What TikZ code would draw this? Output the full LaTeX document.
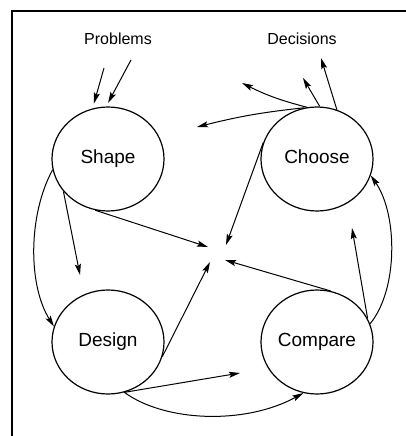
\documentclass[tikz,border=0pt]{standalone}
\usepackage{fontspec}
\setmainfont{Liberation Sans}
\usetikzlibrary{shapes.geometric,arrows.meta}
\begin{document}
\begin{tikzpicture}[x=1pt,y=-1pt,
  circ/.style={ellipse,draw,line width=1.2pt,minimum width=112pt,minimum height=104pt,inner sep=0pt,
    font=\fontsize{19}{19}\selectfont,text height=13pt,text depth=4pt},
  lab/.style={font=\fontsize{16}{16}\selectfont,anchor=base,inner sep=0pt},
  arr/.style={line width=1pt,-{Stealth[length=11pt,width=6pt,inset=2pt]}},
  frame/.style={line width=2.6pt}]
\useasboundingbox (0,0) rectangle (405,436);
% frame (top and left only)
\coordinate (ftl) at (12,11);
\coordinate (ftr) at (406,11);
\coordinate (fbl) at (12,437);
\draw[frame] (ftr) -- (ftl) -- (fbl);
% nodes
\node[circ] (shape) at (108,159) {Shape};
\node[circ] (choose) at (317,159) {Choose};
\node[circ] (design) at (108,342) {Design};
\node[circ] (compare) at (317,342) {Compare};
\node[lab] (problems) at (118,45) {Problems};
\node[lab] (decisions) at (302,45) {Decisions};
% free ends
\coordinate (pa) at (104,68);
\coordinate (pb) at (131,60);
\coordinate (d1) at (321,58);
\coordinate (d2) at (303,78);
\coordinate (d3) at (242,83);
\coordinate (d4) at (197,127);
\coordinate (cs) at (208,247);
\coordinate (cc) at (226,245);
\coordinate (cm) at (225,260);
\coordinate (cd) at (210,262);
\coordinate (sd) at (80,275);
\coordinate (dc) at (240,373);
\coordinate (mc) at (352,228);
% problems
\draw[arr,shorten >=5pt] (pa) -- (shape.107);
\draw[arr,shorten >=4pt] (pb) -- (shape.92);
% decisions
\draw[arr] (choose.68) -- (d1);
\draw[arr] (choose.87) -- (d2);
\draw[arr] (choose.101) to[bend left=6] (d3);
\draw[arr] (choose.104) to[bend right=4] (d4);
% to centre
\draw[arr] (shape.-104) -- (cs);
\draw[arr] (choose.163) -- (cc);
\draw[arr] (compare.75) -- (cm);
\draw[arr] (design.-15) -- (cd);
% shape to design
\draw[arr] (shape.216) -- (sd);
\draw[arr] (shape.191) .. controls (28,215) and (28,285) .. (design.164);
% design to compare
\draw[arr] (design.-72) -- (dc);
\draw[arr] (design.-72) .. controls (165,422) and (245,425) .. (compare.-105);
% compare to choose
\draw[arr] (compare.25) -- (mc);
\draw[arr] (compare.19) .. controls (398,290) and (398,215) .. (choose.-17);
\end{tikzpicture}
\end{document}
